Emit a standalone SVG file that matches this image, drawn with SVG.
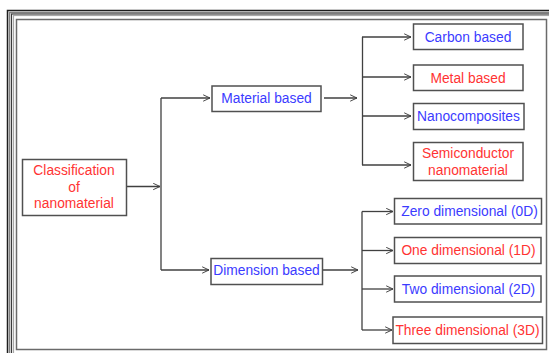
<svg xmlns="http://www.w3.org/2000/svg" width="549" height="353" viewBox="0 0 549 353">
  <defs>
    <style>
      .box { fill: #ffffff; stroke: #505050; stroke-width: 1.5; }
      .lbl { font-family: "Liberation Sans", Arial, sans-serif; font-size: 13.8px; text-anchor: middle; dominant-baseline: central; }
      .blue { fill: #3b3bff; }
      .red { fill: #ff3333; }
      .wire { fill: none; stroke: #404040; stroke-width: 1.3; }
      .arr { fill: none; stroke: #404040; stroke-width: 1.3; marker-end: url(#chev); }
    </style>
    <marker id="chev" viewBox="0 0 10 10" refX="9.5" refY="5" markerWidth="8" markerHeight="8" markerUnits="userSpaceOnUse" orient="auto">
      <path d="M1,1 L9.5,5 L1,9" fill="none" stroke="#404040" stroke-width="1.2"/>
    </marker>
  </defs>

  <rect x="0" y="0" width="549" height="353" fill="#ffffff"/>

  <!-- bevelled outer frame -->
  <g id="frame" fill="none">
    <rect x="7.5" y="10.5" width="560" height="360" stroke="#1e1e1e" stroke-width="1.5"/>
    <rect x="9.5" y="12.5" width="560" height="360" stroke="#808080" stroke-width="1.5"/>
    <rect x="11.5" y="14" width="560" height="360" stroke="#3c3c3c" stroke-width="1.2"/>
    <rect x="13.5" y="15.5" width="560" height="360" stroke="#a8a8a8" stroke-width="1.2"/>
    <rect x="16.5" y="19.5" width="530" height="330" stroke="#6a6a6a" stroke-width="1.5"/>
  </g>

  <!-- connectors -->
  <g id="connectors">
    <line class="arr" x1="126" y1="186.5" x2="160" y2="186.5"/>
    <path class="wire" d="M161,98 V270"/>
    <line class="arr" x1="161" y1="98" x2="210" y2="98"/>
    <line class="arr" x1="161" y1="270" x2="209" y2="270"/>

    <line class="arr" x1="324" y1="98" x2="357" y2="98"/>
    <path class="wire" d="M362.5,37 V165"/>
    <line class="arr" x1="362" y1="37" x2="411" y2="37"/>
    <line class="arr" x1="362" y1="77" x2="411" y2="77"/>
    <line class="arr" x1="362" y1="116" x2="411" y2="116"/>
    <line class="arr" x1="362" y1="165" x2="411" y2="165"/>

    <line class="arr" x1="323" y1="270" x2="358" y2="270"/>
    <path class="wire" d="M362,211.5 V330"/>
    <line class="arr" x1="362" y1="211.5" x2="393" y2="211.5"/>
    <line class="arr" x1="362" y1="250.5" x2="393" y2="250.5"/>
    <line class="arr" x1="362" y1="289" x2="393" y2="289"/>
    <line class="arr" x1="362" y1="330" x2="392" y2="330"/>
  </g>

  <g id="classification">
    <rect class="box" x="22.5" y="159.5" width="104" height="56"/>
    <text class="lbl red" x="74" y="170.5">Classification</text>
    <text class="lbl red" x="74" y="187">of</text>
    <text class="lbl red" x="74" y="203">nanomaterial</text>
  </g>

  <g id="material">
    <rect class="box" x="212" y="86" width="109" height="25.5"/>
    <text class="lbl blue" x="266.5" y="98.5">Material based</text>
  </g>

  <g id="dimension">
    <rect class="box" x="211" y="258.5" width="111.5" height="26"/>
    <text class="lbl blue" x="266.5" y="270.5">Dimension based</text>
  </g>

  <g id="carbon">
    <rect class="box" x="413.5" y="24" width="109.5" height="25.5"/>
    <text class="lbl blue" x="468" y="37">Carbon based</text>
  </g>

  <g id="metal">
    <rect class="box" x="413.5" y="65" width="109.5" height="25.5"/>
    <text class="lbl red" x="468" y="78">Metal based</text>
  </g>

  <g id="nanocomposites">
    <rect class="box" x="413.5" y="103.5" width="110.5" height="26"/>
    <text class="lbl blue" x="468.5" y="116.5">Nanocomposites</text>
  </g>

  <g id="semiconductor">
    <rect class="box" x="413.5" y="142.5" width="109.5" height="38"/>
    <text class="lbl red" x="468" y="153">Semiconductor</text>
    <text class="lbl red" x="468" y="170">nanomaterial</text>
  </g>

  <g id="zero-d">
    <rect class="box" x="394.5" y="198.5" width="147" height="25.5"/>
    <text class="lbl blue" x="469.5" y="211.5">Zero dimensional (0D)</text>
  </g>

  <g id="one-d">
    <rect class="box" x="394.5" y="237.5" width="146.5" height="26"/>
    <text class="lbl red" x="468.5" y="250.5">One dimensional (1D)</text>
  </g>

  <g id="two-d">
    <rect class="box" x="394.5" y="276" width="146.5" height="26"/>
    <text class="lbl blue" x="468.5" y="289">Two dimensional (2D)</text>
  </g>

  <g id="three-d">
    <rect class="box" x="393" y="317" width="149.5" height="26.5"/>
    <text class="lbl red" x="467.5" y="330">Three dimensional (3D)</text>
  </g>
</svg>
